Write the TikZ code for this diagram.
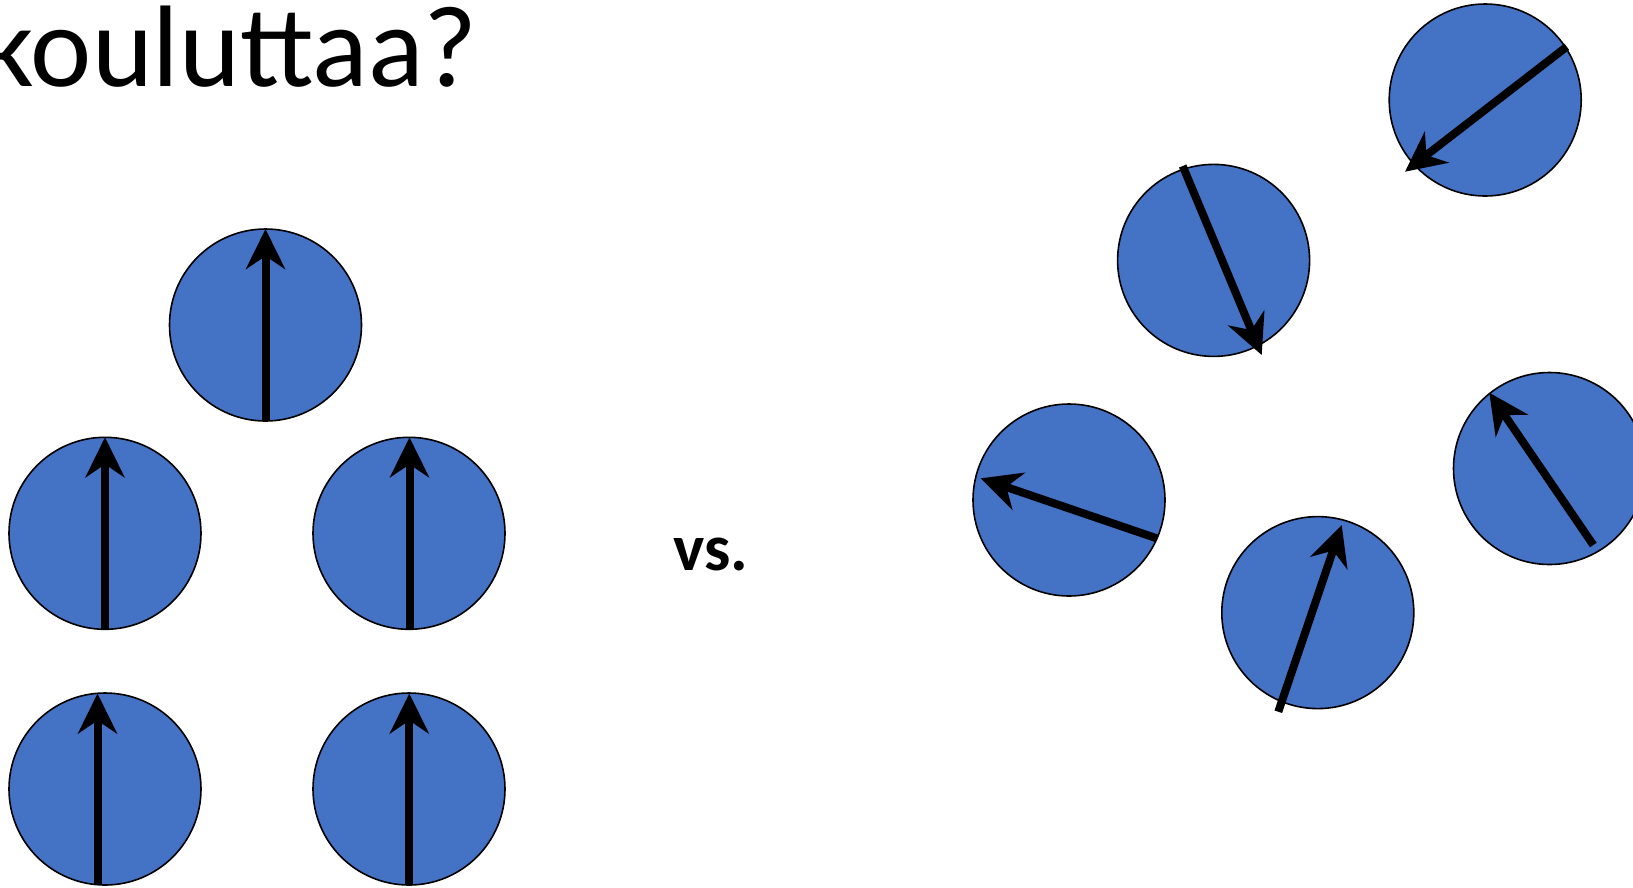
\documentclass[tikz,border=0pt]{standalone}
\usepackage{fontspec}
\setmainfont{Carlito}
\usetikzlibrary{arrows.meta}
\definecolor{dotblue}{HTML}{4472C4}
\begin{document}
\begin{tikzpicture}[x=1pt,y=-1pt,
  dot/.style={circle,draw=black,line width=1.6pt,fill=dotblue,minimum size=192pt,inner sep=0pt},
  spin/.style={line width=8pt,-{Stealth[length=40pt,width=39pt,inset=13pt]}},
  every node/.style={inner sep=0pt,outer sep=0pt}]
\useasboundingbox (0,0) rectangle (1633,887);
\clip (0,0) rectangle (1633,887);
% title
\node[anchor=base west,font=\fontsize{116}{121}\selectfont] (title) at (-18,86) {kouluttaa?};
\node[anchor=base west,font=\bfseries\fontsize{66}{76}\selectfont] (vs) at (673,570) {vs.};
% aligned circles
\node[dot] (a1) at (265.5,325) {};
\node[dot] (a2) at (105,533.3) {};
\node[dot] (a3) at (409,533.3) {};
\node[dot] (a4) at (105,789) {};
\node[dot] (a5) at (409,789) {};
\coordinate (a1s) at (265.5,421);
\coordinate (a1e) at (265.5,229);
\coordinate (a2s) at (105,629.3);
\coordinate (a2e) at (105,437.3);
\coordinate (a3s) at (409.5,629.3);
\coordinate (a3e) at (409.5,437.3);
\coordinate (a4s) at (97.5,885);
\coordinate (a4e) at (97.5,693.5);
\coordinate (a5s) at (409.3,885);
\coordinate (a5e) at (409.3,693.5);
\foreach \i in {1,...,5}{\draw[spin] (a\i s) -- (a\i e);}
% random circles
\node[dot] (b1) at (1485.2,100) {};
\node[dot] (b2) at (1213.6,260.4) {};
\node[dot] (b3) at (1069,500) {};
\node[dot] (b4) at (1549.5,468.5) {};
\node[dot] (b5) at (1317.8,612.6) {};
\coordinate (b1s) at (1566.7,46.7);
\coordinate (b1e) at (1405,171.7);
\coordinate (b2s) at (1182.7,166);
\coordinate (b2e) at (1261.7,355);
\coordinate (b3s) at (1156.7,538.3);
\coordinate (b3e) at (980.7,478.3);
\coordinate (b4s) at (1593.3,545);
\coordinate (b4e) at (1489.3,392.7);
\coordinate (b5s) at (1278.3,711.7);
\coordinate (b5e) at (1341.7,525);
\foreach \i in {1,...,5}{\draw[spin] (b\i s) -- (b\i e);}
\end{tikzpicture}
\end{document}
